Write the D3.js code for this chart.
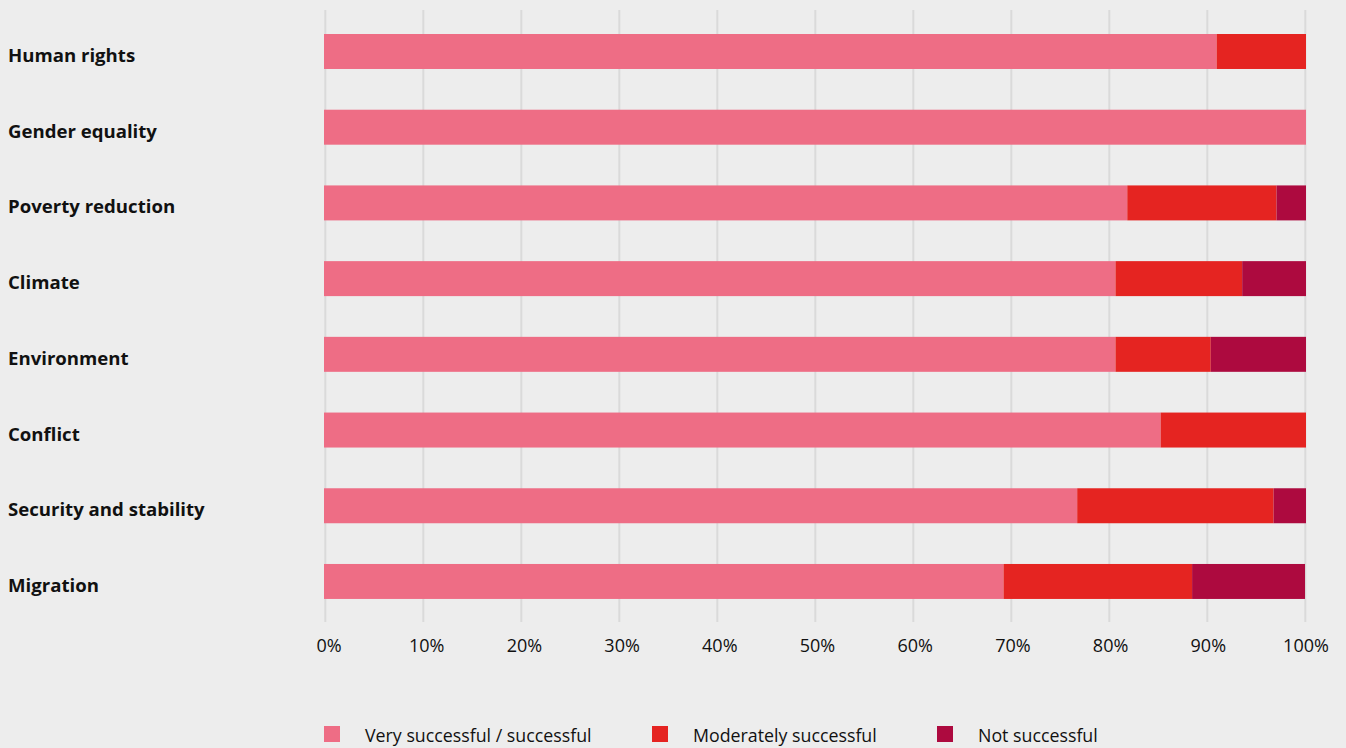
<!DOCTYPE html>
<html>
<head>
<meta charset="utf-8">
<script src="https://cdn.jsdelivr.net/npm/d3@7"></script>
<style>
  html, body { margin: 0; padding: 0; background: #ededed; }
  svg { display: block; }
  text { font-family: "Open Sans", "Noto Sans", sans-serif; fill: #111; }
</style>
</head>
<body>
<svg id="chart" width="1346" height="748"></svg>
<script>
// Topics, top to bottom
const categories = [
  "Human rights", "Gender equality", "Poverty reduction", "Climate",
  "Environment", "Conflict", "Security and stability", "Migration"
];
// Share of responses per topic (%)
const verySuccessful = [90.9, 100, 81.8, 80.6, 80.6, 85.2, 76.7, 69.2];
const moderatelySuccessful = [9.1, 0, 15.2, 12.9, 9.7, 14.8, 20.0, 19.2];
const notSuccessful = [0, 0, 3.0, 6.5, 9.7, 0, 3.3, 11.5];
const seriesNames = ["Very successful / successful", "Moderately successful", "Not successful"];
const tickValues = [0, 10, 20, 30, 40, 50, 60, 70, 80, 90, 100];

const colors = ["#ee6d85", "#e52421", "#ad0a3f"];

const svg = d3.select("#chart");

// Bar scale, gridline scale and tick-label scale share the 0–100 domain
const x = d3.scaleLinear().domain([0, 100]).range([324, 1306]);
const gridX = d3.scaleLinear().domain([0, 100]).range([325.3, 1305.3]);
const tickLabelX = d3.scaleLinear().domain([0, 100]).range([329, 1306]);

const step = 75.71;
const y = d3.scaleBand()
  .domain(categories)
  .range([34 - 20.36, 34 - 20.36 + step * categories.length])
  .paddingInner(0.538)
  .paddingOuter(0.269);

// Gridlines
svg.append("g")
  .selectAll("line")
  .data(tickValues)
  .join("line")
  .attr("x1", d => gridX(d))
  .attr("x2", d => gridX(d))
  .attr("y1", 10)
  .attr("y2", 622)
  .attr("stroke", "#dadada")
  .attr("stroke-width", 2);

// Stacked bars
const rows = categories.map((c, i) => ({
  category: c,
  s0: verySuccessful[i],
  s1: moderatelySuccessful[i],
  s2: notSuccessful[i]
}));
const stack = d3.stack().keys(["s0", "s1", "s2"]);
const layers = stack(rows);

svg.append("g")
  .selectAll("g")
  .data(layers)
  .join("g")
  .attr("fill", (d, i) => colors[i])
  .selectAll("rect")
  .data(d => d.filter(p => p[1] > p[0]))
  .join("rect")
  .attr("x", d => x(d[0]))
  .attr("width", d => x(d[1]) - x(d[0]))
  .attr("y", d => y(d.data.category))
  .attr("height", y.bandwidth());

// Category labels
svg.append("g")
  .selectAll("text")
  .data(categories)
  .join("text")
  .attr("x", 8)
  .attr("y", d => y(d) + y.bandwidth() / 2 + 10.5)
  .attr("font-size", 18.6)
  .attr("font-weight", 700)
  .text(d => d);

// Axis labels
svg.append("g")
  .selectAll("text")
  .data(tickValues)
  .join("text")
  .attr("x", d => tickLabelX(d))
  .attr("y", 652)
  .attr("text-anchor", "middle")
  .attr("font-size", 18)
  .text(d => d + "%");

// Legend
const legendX = [324, 652, 937];
const legend = svg.append("g")
  .selectAll("g")
  .data(seriesNames)
  .join("g")
  .attr("transform", (d, i) => `translate(${legendX[i]},726)`);
legend.append("rect")
  .attr("width", 16)
  .attr("height", 16)
  .attr("fill", (d, i) => colors[i]);
legend.append("text")
  .attr("x", 41)
  .attr("y", 16)
  .attr("font-size", 17.8)
  .text(d => d);
</script>
</body>
</html>
